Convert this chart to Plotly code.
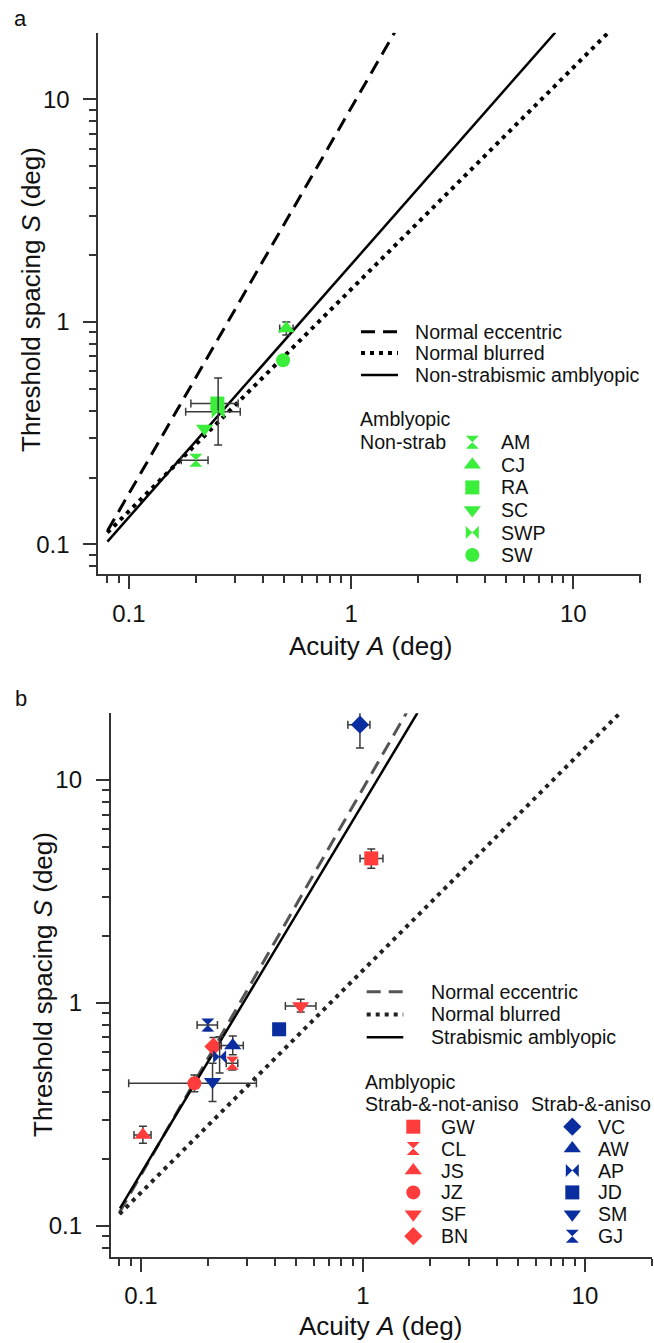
import plotly.graph_objects as go

W, H = 654, 1343
FONT = "Liberation Sans, Arial, sans-serif"
GREEN = "#3cee3c"
RED = "#ff3c3c"
BLUE = "#0a2ea0"
ERR = "#3a3a3a"

# ---------------- data: panel a (non-strabismic amblyopes) ----------------
a_names = ["AM", "CJ", "RA", "SC", "SWP", "SW"]
a_acuity = [0.200, 0.511, 0.250, 0.219, 0.252, 0.494]
a_spacing = [0.239, 0.935, 0.430, 0.332, 0.395, 0.673]
a_acuity_lo = [0.172, 0.477, 0.190, 0.219, 0.180, 0.494]
a_acuity_hi = [0.227, 0.548, 0.310, 0.219, 0.317, 0.494]
a_spacing_lo = [0.239, 0.873, 0.430, 0.332, 0.280, 0.673]
a_spacing_hi = [0.239, 1.000, 0.430, 0.332, 0.560, 0.673]

# ---------------- data: panel b (strabismic amblyopes) ----------------
r_names = ["GW", "CL", "JS", "JZ", "SF", "BN"]
r_acuity = [1.09, 0.258, 0.102, 0.174, 0.524, 0.212]
r_spacing = [4.45, 0.537, 0.256, 0.436, 0.969, 0.637]
r_acuity_lo = [0.97, 0.242, 0.093, 0.088, 0.447, 0.212]
r_acuity_hi = [1.23, 0.273, 0.111, 0.331, 0.614, 0.212]
r_spacing_lo = [4.02, 0.500, 0.235, 0.400, 0.910, 0.580]
r_spacing_hi = [4.90, 0.570, 0.280, 0.475, 1.040, 0.700]

b_names = ["VC", "AW", "AP", "JD", "SM", "GJ"]
b_acuity = [0.969, 0.259, 0.226, 0.419, 0.210, 0.200]
b_spacing = [17.7, 0.645, 0.574, 0.762, 0.443, 0.796]
b_acuity_lo = [0.855, 0.230, 0.226, 0.419, 0.210, 0.179]
b_acuity_hi = [1.075, 0.289, 0.226, 0.419, 0.210, 0.221]
b_spacing_lo = [13.9, 0.585, 0.485, 0.762, 0.361, 0.750]
b_spacing_hi = [20.3, 0.711, 0.706, 0.762, 0.537, 0.840]

# ---------------- data: model lines ----------------
ecc_acuity = [0.080, 1.57]
ecc_spacing = [0.115, 20.0]
blur_acuity = [0.080, 14.4]
blur_spacing = [0.113, 20.0]
nonstrab_acuity = [0.080, 8.3]
nonstrab_spacing = [0.103, 20.0]
strab_acuity = [0.0804, 1.76]
strab_spacing = [0.120, 20.0]

major_ticks = [0.1, 1, 10]
major_labels = ["0.1", "1", "10"]
minor_ticks = [0.08, 0.09, 0.2, 0.3, 0.4, 0.5, 0.6, 0.7, 0.8, 0.9,
               2, 3, 4, 5, 6, 7, 8, 9, 20]

a_symbols = ["hourglass", "triangle-up", "square", "triangle-down", "bowtie", "circle"]
r_symbols = ["square", "hourglass", "triangle-up", "circle", "triangle-down", "diamond"]
b_symbols = ["diamond", "triangle-up", "bowtie", "square", "triangle-down", "hourglass"]
sym_size = {"hourglass": 13, "triangle-up": 15, "square": 14, "triangle-down": 15,
            "bowtie": 13, "circle": 14, "diamond": 14}

fig = go.Figure()


def px_x(v):
    return v / W


def px_y(v):
    return 1 - v / H


def add_points(names, ax, sp, alo, ahi, slo, shi, symbols, color, xa, ya):
    for i in range(len(names)):
        fig.add_trace(go.Scatter(
            x=[ax[i]], y=[sp[i]], mode="markers", xaxis=xa, yaxis=ya,
            marker=dict(symbol=symbols[i], size=sym_size[symbols[i]], color=color,
                        line=dict(width=0)),
            error_x=dict(type="data", symmetric=False,
                         array=[ahi[i] - ax[i]], arrayminus=[ax[i] - alo[i]],
                         color=ERR, thickness=1.5, width=4,
                         visible=(ahi[i] - alo[i]) > 0),
            error_y=dict(type="data", symmetric=False,
                         array=[shi[i] - sp[i]], arrayminus=[sp[i] - slo[i]],
                         color=ERR, thickness=1.5, width=4,
                         visible=(shi[i] - slo[i]) > 0),
            cliponaxis=False, showlegend=False, hoverinfo="skip"))


ECC_DASH = "14px,8px"
DOT_DASH = "4px,5px"

# panel a lines
fig.add_trace(go.Scatter(x=ecc_acuity, y=ecc_spacing, mode="lines", xaxis="x", yaxis="y",
                         line=dict(color="black", width=3, dash=ECC_DASH), showlegend=False))
fig.add_trace(go.Scatter(x=blur_acuity, y=blur_spacing, mode="lines", xaxis="x", yaxis="y",
                         line=dict(color="black", width=4, dash=DOT_DASH), showlegend=False))
fig.add_trace(go.Scatter(x=nonstrab_acuity, y=nonstrab_spacing, mode="lines", xaxis="x", yaxis="y",
                         line=dict(color="black", width=2.5), showlegend=False))
add_points(a_names, a_acuity, a_spacing, a_acuity_lo, a_acuity_hi, a_spacing_lo, a_spacing_hi,
           a_symbols, GREEN, "x", "y")

# panel b lines
fig.add_trace(go.Scatter(x=ecc_acuity, y=ecc_spacing, mode="lines", xaxis="x2", yaxis="y2",
                         line=dict(color="#555555", width=3, dash=ECC_DASH), showlegend=False))
fig.add_trace(go.Scatter(x=blur_acuity, y=blur_spacing, mode="lines", xaxis="x2", yaxis="y2",
                         line=dict(color="#222222", width=4, dash=DOT_DASH), showlegend=False))
fig.add_trace(go.Scatter(x=strab_acuity, y=strab_spacing, mode="lines", xaxis="x2", yaxis="y2",
                         line=dict(color="black", width=2.5), showlegend=False))
add_points(r_names, r_acuity, r_spacing, r_acuity_lo, r_acuity_hi, r_spacing_lo, r_spacing_hi,
           r_symbols, RED, "x2", "y2")
add_points(b_names, b_acuity, b_spacing, b_acuity_lo, b_acuity_hi, b_spacing_lo, b_spacing_hi,
           b_symbols, BLUE, "x2", "y2")

# ---------------- custom legends on a pixel overlay axis ----------------
annotations = []


def txt(x, y, s, size=19.6, anchor="left", angle=0):
    annotations.append(dict(x=px_x(x), y=px_y(y), xref="paper", yref="paper", text=s,
                            showarrow=False, xanchor=anchor, yanchor="middle",
                            textangle=angle, font=dict(family=FONT, size=size, color="#111")))


def leg_line(x0, x1, y, dash, color, width):
    fig.add_trace(go.Scatter(x=[x0, x1], y=[y, y], mode="lines", xaxis="x3", yaxis="y3",
                             line=dict(color=color, width=width, dash=dash),
                             showlegend=False, hoverinfo="skip"))


def leg_marker(x, y, sym, color):
    fig.add_trace(go.Scatter(x=[x], y=[y], mode="markers", xaxis="x3", yaxis="y3",
                             marker=dict(symbol=sym, size=sym_size[sym], color=color, line=dict(width=0)),
                             showlegend=False, hoverinfo="skip", cliponaxis=False))


# panel a legend
line_rows_a = [331.7, 353.0, 375.0]
leg_line(361, 398, line_rows_a[0], ECC_DASH, "black", 3)
leg_line(361, 398, line_rows_a[1], DOT_DASH, "black", 4)
leg_line(361, 398, line_rows_a[2], "solid", "black", 2.5)
for y, s in zip(line_rows_a, ["Normal eccentric", "Normal blurred", "Non-strabismic amblyopic"]):
    txt(412.5, y, s)
txt(358, 419.5, "Amblyopic")
txt(358, 442, "Non-strab")
for i, (n, sym) in enumerate(zip(a_names, a_symbols)):
    yy = 442.3 + i * 22.55
    leg_marker(472.3, yy, sym, GREEN)
    txt(499.3, yy, n)

# panel b legend
line_rows_b = [991.7, 1014.5, 1037.3]
leg_line(366.7, 403.3, line_rows_b[0], ECC_DASH, "#555555", 3)
leg_line(366.7, 403.3, line_rows_b[1], DOT_DASH, "#222222", 4)
leg_line(366.7, 403.3, line_rows_b[2], "solid", "black", 2.5)
for y, s in zip(line_rows_b, ["Normal eccentric", "Normal blurred", "Strabismic amblyopic"]):
    txt(429.3, y, s)
txt(363, 1081.7, "Amblyopic")
txt(363, 1103.5, "Strab-&-not-aniso")
txt(529.3, 1103.5, "Strab-&-aniso")
for i in range(6):
    yy = 1126.7 + i * 21.9
    leg_marker(413.3, yy, r_symbols[i], RED)
    txt(439.3, yy, r_names[i])
    leg_marker(572.3, yy, b_symbols[i], BLUE)
    txt(596, yy, b_names[i])

# panel letters and axis titles
txt(20.7, 18.5, "a", size=22, anchor="center")
txt(20.7, 698, "b", size=22, anchor="center")
txt(370, 646, "Acuity <i>A</i> (deg)", size=26, anchor="center")
txt(381, 1326, "Acuity <i>A</i> (deg)", size=26, anchor="center")
txt(31, 300, "Threshold spacing <i>S</i> (deg)", size=26, anchor="center", angle=-90)
txt(43, 985, "Threshold spacing <i>S</i> (deg)", size=26, anchor="center", angle=-90)


def log_axis(domain, rng, anchor, standoff):
    return dict(type="log", domain=domain, range=rng, anchor=anchor,
                showline=True, linecolor="#333333", linewidth=1.8,
                showgrid=False, zeroline=False, mirror=False,
                ticks="outside", ticklen=13, tickwidth=1.6, tickcolor="#333333",
                tickmode="array", tickvals=major_ticks, ticktext=major_labels,
                ticklabelstandoff=standoff,
                tickfont=dict(family=FONT, size=24, color="#111"),
                minor=dict(ticks="outside", ticklen=7, tickwidth=1.5, tickcolor="#333333",
                           tickmode="array", tickvals=minor_ticks, showgrid=False))


fig.update_layout(
    width=W, height=H, margin=dict(l=0, r=0, t=0, b=0),
    paper_bgcolor="white", plot_bgcolor="rgba(0,0,0,0)",
    font=dict(family=FONT, color="#111"),
    xaxis=log_axis([98.3 / W, 641 / W], [-1.138, 1.305], "y", 4),
    yaxis=log_axis([px_y(574.3), px_y(32.7)], [-1.134, 1.300], "x", 9),
    xaxis2=log_axis([110.7 / W, 652 / W], [-1.1365, 1.302], "y2", 4),
    yaxis2=log_axis([px_y(1256.7), px_y(713.3)], [-1.138, 1.299], "x2", 9),
    xaxis3=dict(domain=[0, 1], range=[0, W], visible=False, anchor="y3", fixedrange=True),
    yaxis3=dict(domain=[0, 1], range=[H, 0], visible=False, anchor="x3", fixedrange=True),
    annotations=annotations,
)

fig.write_html("out.html")
